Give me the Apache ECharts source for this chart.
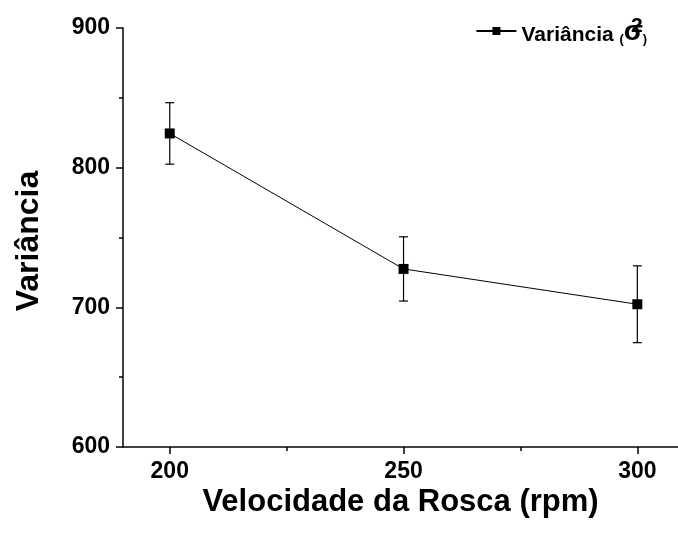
<!DOCTYPE html>
<html>
<head>
<meta charset="utf-8">
<script src="https://cdn.jsdelivr.net/npm/echarts@6/dist/echarts.min.js"></script>
<style>
  html, body { margin: 0; padding: 0; background: #fff; }
  #chart { width: 678px; height: 538px; }
</style>
</head>
<body>
<div id="chart"></div>
<script>
const speeds = [200, 250, 300];
const variance = [824.5, 727.5, 702.2];
const errors = [22, 23, 27.5];
const xTicks = [200, 250, 300];
const xMinorTicks = [225, 275];

const font = 'Liberation Sans, Arial, sans-serif';
const chart = echarts.init(document.getElementById('chart'));

const errorData = speeds.map((s, i) => [s, variance[i] - errors[i], variance[i] + errors[i]]);

chart.setOption({
  animation: false,
  grid: { left: 123, right: 0, top: 28, bottom: 91, outerBoundsMode: 'none' },
  legend: {
    right: 26,
    top: 11,
    itemWidth: 40,
    itemHeight: 10,
    itemGap: 4,
    textStyle: {
      color: '#000',
      fontFamily: font,
      rich: {
        b: { fontFamily: font, fontWeight: 'bold', fontSize: 21, color: '#000', lineHeight: 30, verticalAlign: 'bottom' },
        p: { fontFamily: font, fontWeight: 'bold', fontSize: 13, color: '#000', lineHeight: 30, verticalAlign: 'bottom' },
        s: { fontFamily: font, fontWeight: 'bold', fontSize: 28, color: '#000', lineHeight: 30, verticalAlign: 'bottom' },
        sup: { fontFamily: font, fontWeight: 'bold', fontSize: 21, color: '#000', lineHeight: 30, verticalAlign: 'top', padding: [0, 0, 0, -12] }
      }
    },
    formatter: () => '{b|Variância }{p|(}{s|σ}{sup|2}{p|)}',
    data: ['Variância'],
  },
  xAxis: [{
    type: 'value',
    min: 190,
    max: 308.7,
    axisLine: { show: true, onZero: false, lineStyle: { color: '#000', width: 1.5 } },
    axisTick: { show: true, length: 7, customValues: xTicks, lineStyle: { color: '#000', width: 1.5 } },
    axisLabel: { customValues: xTicks, color: '#000', fontFamily: font, fontWeight: 'bold', fontSize: 23, margin: 13 },
    splitLine: { show: false },
    name: 'Velocidade da Rosca (rpm)',
    nameLocation: 'middle',
    nameGap: 40,
    nameMoveOverlap: false,
    nameTextStyle: { color: '#000', fontFamily: font, fontWeight: 'bold', fontSize: 31, verticalAlign: 'top' }
  }, {
    type: 'value',
    min: 190,
    max: 308.7,
    position: 'bottom',
    axisLine: { show: false },
    axisTick: { show: true, length: 4, customValues: xMinorTicks, lineStyle: { color: '#000', width: 1.5 } },
    axisLabel: { show: false },
    splitLine: { show: false }
  }],
  yAxis: {
    type: 'value',
    min: 600,
    max: 900,
    interval: 100,
    axisLine: { show: true, lineStyle: { color: '#000', width: 1.5 } },
    axisTick: { show: true, length: 7, lineStyle: { color: '#000', width: 1.5 } },
    minorTick: { show: true, splitNumber: 2, length: 4, lineStyle: { color: '#000', width: 1.5 } },
    axisLabel: { color: '#000', fontFamily: font, fontWeight: 'bold', fontSize: 23, margin: 13 },
    splitLine: { show: false },
    name: 'Variância',
    nameLocation: 'middle',
    nameGap: 78,
    nameTextStyle: { color: '#000', fontFamily: font, fontWeight: 'bold', fontSize: 32, padding: [0, 7, 0, 0] }
  },
  series: [{
    type: 'custom',
    name: 'err',
    data: errorData,
    z: 1,
    renderItem: (params, api) => {
      const top = api.coord([api.value(0), api.value(2)]);
      const bot = api.coord([api.value(0), api.value(1)]);
      const w = 4.5;
      const style = { stroke: '#000', lineWidth: 1.2 };
      return {
        type: 'group',
        children: [
          { type: 'line', shape: { x1: top[0], y1: top[1], x2: bot[0], y2: bot[1] }, style },
          { type: 'line', shape: { x1: top[0] - w, y1: top[1], x2: top[0] + w, y2: top[1] }, style },
          { type: 'line', shape: { x1: bot[0] - w, y1: bot[1], x2: bot[0] + w, y2: bot[1] }, style }
        ]
      };
    }
  }, {
    type: 'line',
    name: 'Variância',
    data: speeds.map((s, i) => [s, variance[i]]),
    z: 3,
    symbol: 'rect',
    symbolSize: 10,
    lineStyle: { color: '#000', width: 1 },
    itemStyle: { color: '#000' }
  }]
});
</script>
</body>
</html>
